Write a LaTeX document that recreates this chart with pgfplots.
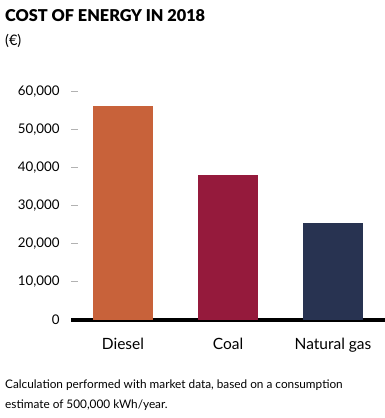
\documentclass[border=0pt]{standalone}
\usepackage{pgfplots}
\pgfplotsset{compat=1.18}
\usepackage{fontspec}
\setmainfont{Lato}
\newfontfamily\titlefont{Lato Black}
\definecolor{diesel}{HTML}{C8623A}
\definecolor{coal}{HTML}{951A3C}
\definecolor{gas}{HTML}{283351}
\begin{document}
\begin{tikzpicture}
\useasboundingbox (0bp,0bp) rectangle (385bp,418bp);
\node[anchor=base west,inner sep=0] at (5bp,396bp) {\titlefont\fontsize{16.3bp}{18bp}\selectfont COST OF ENERGY IN 2018};
\node[anchor=base west,inner sep=0] at (5bp,372bp) {\fontsize{14.5bp}{16bp}\selectfont (€)};
\begin{axis}[
  at={(71bp,98bp)}, anchor=south west,
  scale only axis, width=314bp, height=228bp,
  xmin=-0.495, xmax=2.495, ymin=0, ymax=60000,
  axis x line*=bottom, axis y line*=left,
  x axis line style={line width=4bp, black},
  y axis line style={draw=none},
  xtick={0,1,2}, xticklabels={Diesel,Coal,Natural gas},
  xtick style={draw=none},
  xticklabel style={font=\fontsize{15.5bp}{17bp}\selectfont, yshift=-8bp},
  ytick={0,10000,...,60000},
  scaled y ticks=false,
  yticklabel style={/pgf/number format/1000 sep={,}, font=\fontsize{13.3bp}{15bp}\selectfont, xshift=-8bp},
  /pgf/number format/assume math mode=true,
  major tick length=7bp, tick align=inside,
  ytick style={draw=gray!60, line width=1bp},
  ybar=0pt, bar width=60bp, bar shift=0pt,
  clip=false,
]
\addplot[fill=diesel, draw=none] coordinates {(0,56300)};
\addplot[fill=coal, draw=none] coordinates {(1,38100)};
\addplot[fill=gas, draw=none] coordinates {(2,25500)};
\end{axis}
\node[anchor=base west,inner sep=0] at (5bp,30bp) {\fontsize{11.8bp}{13bp}\selectfont Calculation performed with market data, based on a consumption};
\node[anchor=base west,inner sep=0] at (5bp,10bp) {\fontsize{11.8bp}{13bp}\selectfont estimate of 500,000 kWh/year.};
\end{tikzpicture}
\end{document}
